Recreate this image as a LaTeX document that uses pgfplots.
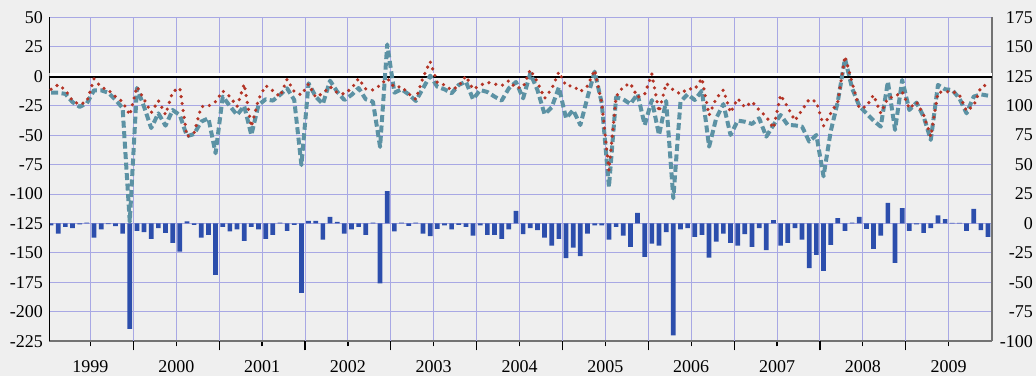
\documentclass[border=0pt]{standalone}
\usepackage{pgfplots}
\pgfplotsset{compat=1.18}
\usepackage{pgfplotstable}
\usepackage{fontspec}
\setmainfont{Liberation Serif}
\definecolor{bg}{RGB}{239,239,239}
\definecolor{gridc}{RGB}{168,168,228}
\definecolor{tealc}{RGB}{92,146,164}
\definecolor{redc}{RGB}{180,52,38}
\definecolor{barc}{RGB}{44,78,172}
\pgfplotstableread{
m a b c
0.5 -14 -11.1 -1.7
1.5 -14 -7.2 -8.5
2.5 -15 -11.7 -2.8
3.5 -22 -21 -4
4.5 -26 -24 -0.8
5.5 -23 -21.6 0.8
6.5 -12 -2.3 -11.9
7.5 -12 -9.4 -5
8.5 -14 -11.7 -0.5
9.5 -20 -17.3 -2.3
10.5 -27 -21.6 -8.5
11.5 -123.5 -33 -89.4
12.5 -10 -8.9 -6.2
13.5 -26 -19.6 -7.4
14.5 -44 -31 -13
15.5 -31.5 -20.7 -4
16.5 -42 -32.6 -7.9
17.5 -28.7 -13.1 -16.4
18.5 -33 -10 -23.8
19.5 -51 -51.3 1.7
20.5 -49 -48 -1.1
21.5 -38.5 -25.8 -11.9
22.5 -35.7 -25.3 -9.6
23.5 -65.4 -21.6 -43.6
24.5 -17.3 -12.5 -2.8
25.5 -25.3 -17.3 -6.8
26.5 -32.9 -25.8 -5.1
27.5 -25.3 -6.6 -14.7
28.5 -49.9 -43 -2.8
29.5 -24.4 -19.6 -5.1
30.5 -19.6 -8 -13
31.5 -20.7 -12.3 -9.6
32.5 -15.9 -17.3 0.8
33.5 -10.3 -2.6 -6.2
34.5 -20.2 -13.1 -1.1
35.5 -75.4 -15.9 -58.9
36.5 -6 -6.6 2.3
37.5 -17.3 -17.9 2.3
38.5 -23.6 -14.5 -13.6
39.5 -3.8 -8.9 5.7
40.5 -13.1 -14 1.4
41.5 -20.2 -15.1 -8.5
42.5 -15.9 -10.3 -5.1
43.5 -10 -2 -2.8
44.5 -19.6 -10.8 -9.6
45.5 -21.6 -11.7 0.8
46.5 -60 -7.7 -50.9
47.5 27 -1.8 27.4
48.5 -14 -9.4 -6.8
49.5 -11.1 -8.9 0.8
50.5 -15.4 -15 -2
51.5 -21 -19.6 0.8
52.5 -10.3 -1.2 -8.5
53.5 0.5 12.5 -10.7
54.5 -8.9 -5.5 -4.5
55.5 -11.1 -7.4 -1.7
56.5 -14.5 -11.7 -5.1
57.5 -7.4 -8.3 -1.1
58.5 -4.6 0.2 -2.8
59.5 -19.6 -11.1 -10.2
60.5 -11.7 -7.7 -1.7
61.5 -13.4 -5.2 -9.6
62.5 -17.3 -6.6 -9.6
63.5 -20.7 -8 -13
64.5 -10.3 -3.8 -5.1
65.5 -4.9 -10 10.8
66.5 -18.8 -9.4 -9.1
67.5 2.5 5.6 -4
68.5 -11.7 -4.9 -5.7
69.5 -32.3 -18.8 -11.9
70.5 -26.4 -10.6 -18.7
71.5 -9.4 3.6 -13
72.5 -35.7 -8 -29.4
73.5 -28.7 -8.3 -20.4
74.5 -41.4 -13.1 -27.7
75.5 -17.9 -8.3 -8.5
76.5 3.9 5.3 -1.7
77.5 -23 -23 -1.7
78.5 -94 -80 -13.6
79.5 -17.9 -17.3 -2.8
80.5 -19.6 -8.9 -10.2
81.5 -23.6 -6 -19.8
82.5 -15.1 -17.9 9.1
83.5 -41.4 -15.1 -28.3
84.5 -20.2 1.9 -17
85.5 -49.9 -30.4 -18.7
86.5 -21 -6 -7.4
87.5 -103.6 -11.7 -95
88.5 -21.6 -15.1 -5.1
89.5 -15.4 -10.6 -4
90.5 -20.2 -11.1 -11.3
91.5 -12.3 -1.8 -9.6
92.5 -59.8 -33.2 -28.9
93.5 -35.7 -18.8 -15.3
94.5 -23.6 -11.7 -8.5
95.5 -49.9 -30.9 -16.4
96.5 -37.7 -19 -18.7
97.5 -38.6 -26.4 -9.1
98.5 -40.5 -21.6 -19.8
99.5 -35.7 -28.7 -4
100.5 -51.3 -34.3 -22.6
101.5 -41.4 -44.2 2.8
102.5 -32.9 -15.9 -18.7
103.5 -41.4 -26.4 -16.4
104.5 -41.7 -37.7 -4
105.5 -42.8 -28.7 -13.6
106.5 -55.5 -19.6 -37.9
107.5 -49.9 -21.6 -26.6
108.5 -85 -42.2 -40.2
109.5 -47 -31.5 -18.1
110.5 -21.6 -21.6 4.5
111.5 15 17 -6.2
112.5 -10.3 -5.5 0.8
113.5 -25.3 -27.2 5.7
114.5 -31.5 -25.8 -4.5
115.5 -37.7 -15.9 -21.5
116.5 -42.8 -31.5 -10.2
117.5 -4.6 -18.5 17.5
118.5 -45.6 -17.3 -33.4
119.5 -3.2 -13.1 13
120.5 -28.7 -27.5 -6.2
121.5 -22.4 -21.9 -0.8
122.5 -34.3 -32.9 -7.9
123.5 -54.1 -51.3 -4
124.5 -7.4 -13.7 6.8
125.5 -11.1 -13.4 3.7
126.5 -11.7 -12.8 0.5
127.5 -18.8 -15.9 0.5
128.5 -31.5 -29.5 -6.2
129.5 -17.3 -25 12.5
130.5 -15.4 -9.4 -5.7
131.5 -16.5 -6.6 -11.3
}\data
\begin{document}
\begin{tikzpicture}[font=\fontsize{18}{20}\selectfont]
\fill[bg] (-49.3pt,-34.7pt) rectangle (986.7pt,341.3pt);
\begin{axis}[
  at={(0pt,0pt)}, anchor=south west,
  scale only axis, width=943pt, height=324pt,
  xmin=0.25, xmax=132.1, ymin=-100, ymax=175,
  axis x line*=bottom, axis y line*=right,
  x axis line style={draw=black!55, line width=2pt, -},
  y axis line style={draw=black!55, line width=2pt, -},
  xtick={6,18,...,126},
  xticklabels={1999,2000,2001,2002,2003,2004,2005,2006,2007,2008,2009},
  extra x ticks={12,24,...,120},
  extra x tick labels={},
  extra x tick style={major tick length=9pt, grid=major},
  ytick={-100,-75,...,175},
  yticklabels={-100,-75,-50,-25,0,25,50,75,100,125,150,175},
  xmajorgrids, ymajorgrids,
  grid style={color=gridc, line width=0.9pt},
  tick align=outside,
  major tick length=5pt,
  xtick style={draw=black, line width=1.2pt},
  ytick style={draw=none},
  xticklabel style={anchor=base, inner sep=1pt, yshift=-26pt},
  yticklabel style={anchor=east, xshift=39pt},
]
\addplot[ybar, bar width=4.7pt, fill=barc, draw=none] table[x=m, y=c] {\data};
\end{axis}
\begin{axis}[
  at={(0pt,0pt)}, anchor=south west,
  scale only axis, width=943pt, height=324pt,
  xmin=0.25, xmax=132.1, ymin=-225, ymax=50,
  axis x line=none, axis y line*=left,
  y axis line style={draw=black, line width=1pt, -},
  ytick={-225,-200,...,50},
  yticklabels={-225,-200,-175,-150,-125,-100,-75,-50,-25,0,25,50},
  ytick style={draw=none},
  yticklabel style={anchor=east, xshift=-3pt},
]
\draw[white, line width=2.5pt] (axis cs:0.25,0) ++(0pt,1.5pt) -- ++(943pt,0pt);
\draw[black, line width=1.2pt] (axis cs:0.25,0) ++(0pt,-0.8pt) -- ++(943pt,0pt);
\addplot[tealc, line width=4pt, dash pattern=on 7pt off 3.5pt, line join=round] table[x=m, y=a] {\data};
\addplot[redc, line width=3.6pt, dash pattern=on 0pt off 7pt, line cap=round, line join=round] table[x=m, y=b] {\data};
\end{axis}
\pgfresetboundingbox
\path[use as bounding box] (-49.3pt,-34.7pt) rectangle (986.7pt,341.3pt);
\end{tikzpicture}
\end{document}
